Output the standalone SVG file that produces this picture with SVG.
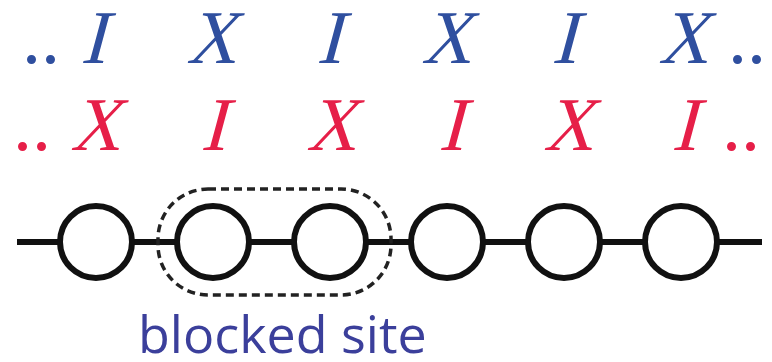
<svg xmlns="http://www.w3.org/2000/svg" width="772" height="362" viewBox="0 0 772 362">
<style>
.b,.r{font-family:'Liberation Serif','Times New Roman',serif;font-size:76px;text-anchor:middle}
.b{fill:#2f4f9f}
.r{fill:#e61f48}
.d{text-anchor:start}
.site{fill:#fff;stroke:#111;stroke-width:6}
.chain{stroke:#111;stroke-width:6;fill:none}
.box{fill:none;stroke:#222;stroke-width:3.5;stroke-dasharray:8 5}
.lbl{fill:#3b3f9b;font-family:'Open Sans','Liberation Sans',sans-serif;font-size:52px}
</style>
<g id="row-blue">
<text class="b d" x="22" y="63">..</text>
<text class="b" transform="translate(93 63) skewX(-15)">I</text>
<text class="b" transform="translate(211 63) skewX(-15) scale(0.9 1)">X</text>
<text class="b" transform="translate(329 63) skewX(-15)">I</text>
<text class="b" transform="translate(446 63) skewX(-15) scale(0.9 1)">X</text>
<text class="b" transform="translate(564 63) skewX(-15)">I</text>
<text class="b" transform="translate(683 63) skewX(-15) scale(0.9 1)">X</text>
<text class="b d" x="728" y="63">..</text>
</g>
<g id="row-red">
<text class="r d" x="13" y="150">..</text>
<text class="r" transform="translate(95 150) skewX(-15) scale(0.9 1)">X</text>
<text class="r" transform="translate(213 150) skewX(-15)">I</text>
<text class="r" transform="translate(331 150) skewX(-15) scale(0.9 1)">X</text>
<text class="r" transform="translate(451 150) skewX(-15)">I</text>
<text class="r" transform="translate(568 150) skewX(-15) scale(0.9 1)">X</text>
<text class="r" transform="translate(684 150) skewX(-15)">I</text>
<text class="r d" x="722" y="150">..</text>
</g>
<g id="connectors">
<line class="chain" x1="17" y1="242" x2="762" y2="242"/>
</g>
<g id="site1"><circle class="site" cx="96" cy="242" r="36"/></g>
<g id="site2"><circle class="site" cx="213" cy="242" r="36"/></g>
<g id="site3"><circle class="site" cx="330" cy="242" r="36"/></g>
<g id="site4"><circle class="site" cx="447" cy="242" r="36"/></g>
<g id="site5"><circle class="site" cx="564" cy="242" r="36"/></g>
<g id="site6"><circle class="site" cx="681" cy="242" r="36"/></g>
<g id="blocked">
<rect class="box" x="158" y="189" width="233" height="106" rx="50" ry="50"/>
<text class="lbl" x="138" y="353">blocked site</text>
</g>
</svg>
